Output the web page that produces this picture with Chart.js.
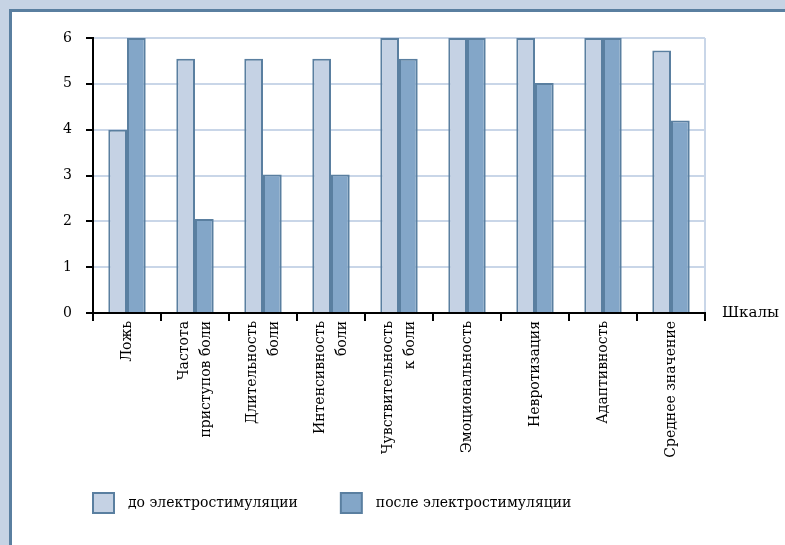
<!DOCTYPE html>
<html>
<head>
<meta charset="utf-8">
<script src="https://cdn.jsdelivr.net/npm/chart.js@4.4.1/dist/chart.umd.min.js"></script>
<style>
  html, body { margin: 0; padding: 0; width: 785px; height: 545px; overflow: hidden; background: #c6d3e4; }
  .panel { position: absolute; left: 9px; top: 9px; width: 800px; height: 560px; background: #fff;
           border-left: 3px solid #5a7fa0; border-top: 3px solid #5a7fa0; }
  .wrap { position: absolute; left: 0; top: 0; width: 785px; height: 523px; }
</style>
</head>
<body>
<div class="panel"></div>
<div class="wrap"><canvas id="chart" width="785" height="523"></canvas></div>
<script>
const categories = [
  "Ложь",
  ["Частота", "приступов боли"],
  ["Длительность", "боли"],
  ["Интенсивность", "боли"],
  ["Чувствительность", "к боли"],
  "Эмоциональность",
  "Невротизация",
  "Адаптивность",
  "Среднее значение"
];
const beforeValues = [4, 5.55, 5.55, 5.55, 6, 6, 6, 6, 5.73];
const afterValues = [6, 2.05, 3.02, 3.02, 5.55, 6, 5.02, 6, 4.2];
const seriesNames = ["до электростимуляции", "после электростимуляции"];
const yTicks = [0, 1, 2, 3, 4, 5, 6];
const axisName = "Шкалы";

const serif = '"DejaVu Serif", serif';
const edge = "#5a7fa0";
const gridBlue = "#c9d6e8";

// vertical category names, multi-line ones centred on their tick
const categoryLabels = {
  id: "categoryLabels",
  afterDraw(chart) {
    const { ctx } = chart;
    const x = chart.scales.x;
    const lineStep = 22;
    ctx.save();
    ctx.font = "14px " + serif;
    ctx.fillStyle = "#000";
    ctx.textAlign = "right";
    ctx.textBaseline = "middle";
    categories.forEach((label, i) => {
      const lines = [].concat(label);
      const cx = x.getPixelForTick(i);
      lines.forEach((line, j) => {
        ctx.save();
        ctx.translate(cx + (j - (lines.length - 1) / 2) * lineStep, x.top + 8);
        ctx.rotate(-Math.PI / 2);
        ctx.fillText(line, 0, 0);
        ctx.restore();
      });
    });
    // "Шкалы" to the right of the axis
    ctx.font = "15px " + serif;
    ctx.textAlign = "left";
    ctx.fillText(axisName, chart.chartArea.right + 17, chart.chartArea.bottom);
    ctx.restore();
  }
};

new Chart(document.getElementById("chart"), {
  type: "bar",
  data: {
    labels: categories,
    datasets: [
      { label: seriesNames[0], data: beforeValues, backgroundColor: "#c5d2e4", borderColor: edge, borderWidth: 2 },
      { label: seriesNames[1], data: afterValues, backgroundColor: "#83a6c8", borderColor: edge, borderWidth: 2 }
    ]
  },
  options: {
    responsive: false,
    animation: false,
    devicePixelRatio: 1,
    layout: { padding: { left: 57, right: 80, top: 38, bottom: 0 } },
    datasets: { bar: { categoryPercentage: 0.55, barPercentage: 1 } },
    scales: {
      x: {
        offset: true,
        grid: {
          offset: true,
          drawOnChartArea: true,
          // only the closing line on the right is visible inside the plot
          color: c => (c.type === "tick" ? "rgba(0,0,0,0)" : gridBlue),
          tickColor: "#000",
          tickLength: 8,
          lineWidth: 2
        },
        border: { color: "#000", width: 2 },
        ticks: { display: false, autoSkip: false },
        afterFit: s => { s.height = 144; }
      },
      y: {
        min: 0,
        max: 6,
        afterBuildTicks: s => { s.ticks = yTicks.map(v => ({ value: v })); },
        grid: { color: gridBlue, tickColor: "#000", tickLength: 7, lineWidth: 2 },
        border: { color: "#000", width: 2 },
        ticks: { padding: 14, color: "#000", font: { family: serif, size: 14 } },
        afterFit: s => { s.width = 36; }
      }
    },
    plugins: {
      legend: {
        position: "bottom",
        align: "start",
        labels: {
          boxWidth: 21,
          boxHeight: 20,
          padding: 36,
          color: "#000",
          font: { family: serif, size: 14 },
          generateLabels: chart =>
            Chart.defaults.plugins.legend.labels.generateLabels(chart)
              .map(item => Object.assign(item, { text: "\u2002" + item.text + "\u2002" }))
        }
      },
      tooltip: { enabled: false }
    }
  },
  plugins: [categoryLabels]
});
</script>
</body>
</html>
